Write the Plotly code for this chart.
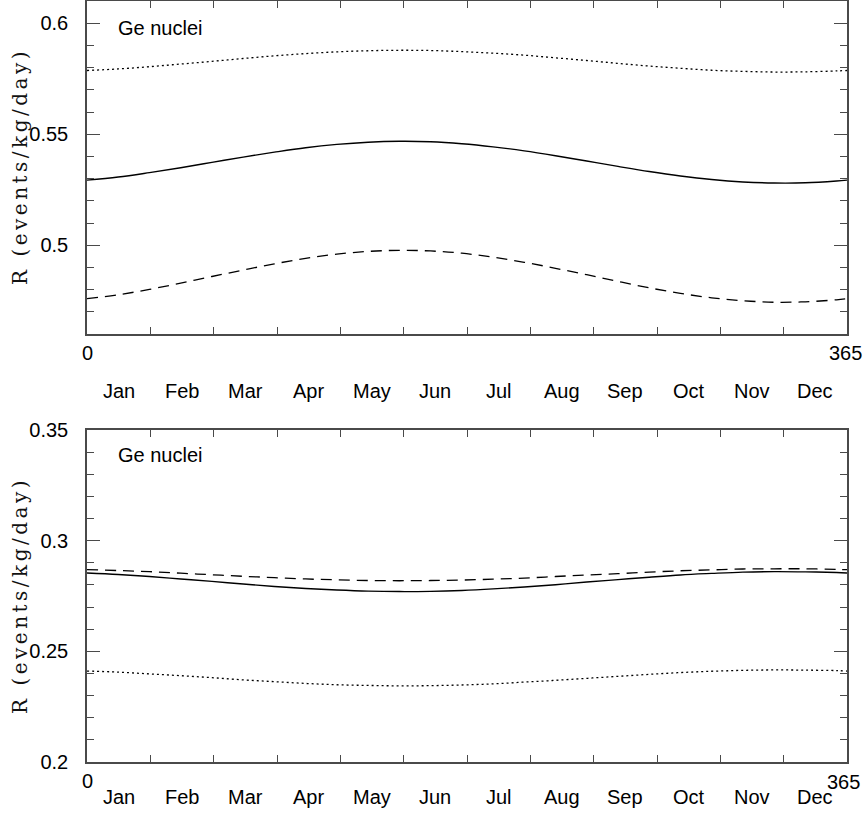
import plotly.graph_objects as go

days = [0, 15, 30, 45, 60, 75, 90, 105, 120, 135, 150, 165, 180, 195, 210,
        225, 240, 255, 270, 285, 300, 315, 330, 345, 360, 365]

# top panel
top_solid = [0.5293, 0.5307, 0.5327, 0.5349, 0.5373, 0.5397, 0.5419, 0.5439, 0.5454,
             0.5464, 0.5468, 0.5466, 0.5457, 0.5443, 0.5425, 0.5403, 0.5379, 0.5355,
             0.5332, 0.5312, 0.5296, 0.5285, 0.5280, 0.5281, 0.5289, 0.5293]
top_dotted = [0.5787, 0.5794, 0.5804, 0.5816, 0.5828, 0.5841, 0.5853, 0.5863, 0.5871,
              0.5876, 0.5878, 0.5877, 0.5872, 0.5865, 0.5856, 0.5844, 0.5832, 0.5819,
              0.5807, 0.5797, 0.5788, 0.5783, 0.5780, 0.5781, 0.5785, 0.5787]
top_dashed = [0.4759, 0.4777, 0.4801, 0.4829, 0.4859, 0.4888, 0.4916, 0.4941, 0.4960,
              0.4972, 0.4977, 0.4974, 0.4964, 0.4946, 0.4923, 0.4896, 0.4867, 0.4837,
              0.4808, 0.4783, 0.4763, 0.4750, 0.4743, 0.4745, 0.4754, 0.4759]

# bottom panel
bot_dashed = [0.2869, 0.2865, 0.2860, 0.2853, 0.2846, 0.2839, 0.2833, 0.2827, 0.2823,
              0.2820, 0.2819, 0.2820, 0.2822, 0.2826, 0.2831, 0.2838, 0.2845, 0.2851,
              0.2858, 0.2864, 0.2868, 0.2872, 0.2873, 0.2873, 0.2870, 0.2869]
bot_solid = [0.2854, 0.2847, 0.2838, 0.2827, 0.2816, 0.2804, 0.2793, 0.2784, 0.2777,
             0.2772, 0.2770, 0.2771, 0.2775, 0.2782, 0.2791, 0.2801, 0.2813, 0.2824,
             0.2835, 0.2845, 0.2852, 0.2858, 0.2860, 0.2859, 0.2856, 0.2854]
bot_dotted = [0.2411, 0.2406, 0.2398, 0.2390, 0.2381, 0.2371, 0.2363, 0.2355, 0.2349,
              0.2346, 0.2344, 0.2345, 0.2348, 0.2353, 0.2361, 0.2369, 0.2378, 0.2387,
              0.2396, 0.2404, 0.2410, 0.2414, 0.2416, 0.2415, 0.2413, 0.2411]

months = ["Jan", "Feb", "Mar", "Apr", "May", "Jun",
          "Jul", "Aug", "Sep", "Oct", "Nov", "Dec"]
month_len = 365 / 12
month_edges = [k * month_len for k in range(1, 12)]
month_mids = [(k + 0.5) * month_len for k in range(12)]

top_yticks = [0.5, 0.55, 0.6]
top_yticklabels = ["0.5", "0.55", "0.6"]
bot_yticks = [0.2, 0.25, 0.3, 0.35]
bot_yticklabels = ["0.2", "0.25", "0.3", "0.35"]
y_title = "R (events/kg/day)"
panel_label = "Ge nuclei"

LINE = "black"
AX = "#4a4a4a"
SANS = "Liberation Sans, Arial, Helvetica, sans-serif"
SERIF = "DejaVu Serif, Liberation Serif, serif"

fig = go.Figure()


def add(y, dash, xa, ya, width=1.4):
    fig.add_trace(go.Scatter(x=days, y=y, mode="lines", xaxis=xa, yaxis=ya,
                             line=dict(color=LINE, width=width, dash=dash, shape="spline"),
                             showlegend=False, hoverinfo="skip"))


add(top_dotted, "2px,3px", "x", "y", 1.3)
add(top_solid, "solid", "x", "y")
add(top_dashed, "11px,7px", "x", "y", 1.3)
add(bot_dashed, "11px,7px", "x2", "y2", 1.3)
add(bot_solid, "solid", "x2", "y2")
add(bot_dotted, "2px,3px", "x2", "y2", 1.3)

xdom = [87 / 864, 847 / 864]
top_dom = [1 - 334 / 816, 1 - 1 / 816]
bot_dom = [1 - 762 / 816, 1 - 430 / 816]

xcommon = dict(range=[0, 365], domain=xdom, showgrid=False, zeroline=False,
               automargin=False,
               showline=True, linecolor=AX, linewidth=1.5, mirror="ticks",
               ticks="inside", ticklen=7, tickwidth=1.2, tickcolor=AX,
               tickvals=month_edges, showticklabels=False)
ycommon = dict(showgrid=False, zeroline=False, showline=True, linecolor=AX,
               automargin=False,
               linewidth=1.5, mirror="ticks", ticks="inside", ticklen=13,
               tickwidth=1.2, tickcolor=AX, ticklabelstandoff=13,
               tickfont=dict(family=SANS, size=20, color="black"),
               minor=dict(dtick=0.01, ticks="inside", ticklen=7, tickwidth=1.2,
                          tickcolor=AX, showgrid=False))

fig.update_layout(
    width=864, height=816, autosize=False,
    margin=dict(l=0, r=0, t=0, b=0, pad=0),
    paper_bgcolor="white", plot_bgcolor="white",
    xaxis=dict(**xcommon, anchor="y"),
    xaxis2=dict(**xcommon, anchor="y2"),
    yaxis=dict(**ycommon, range=[0.46, 0.61], domain=top_dom, anchor="x",
               tickvals=top_yticks, ticktext=top_yticklabels),
    yaxis2=dict(**ycommon, range=[0.2, 0.35], domain=bot_dom, anchor="x2",
                tickvals=bot_yticks, ticktext=bot_yticklabels),
)

ann = []
lab = dict(family=SANS, size=20, color="black")
for xref, y_months, y_zero, y_end, x_end in [("x", 1 - 391 / 816, 1 - 353 / 816, 1 - 353 / 816, 364.5),
                                              ("x2", 1 - 797 / 816, 1 - 781 / 816, 1 - 782 / 816, 363.5)]:
    for m, xm in zip(months, month_mids):
        ann.append(dict(x=xm, y=y_months, xref=xref, yref="paper", text=m,
                        showarrow=False, font=lab, xanchor="center", yanchor="middle"))
    ann.append(dict(x=0, y=y_zero, xref=xref, yref="paper", text="0",
                    showarrow=False, font=lab, xanchor="center", yanchor="middle"))
    ann.append(dict(x=x_end, y=y_end, xref=xref, yref="paper", text="365",
                    showarrow=False, font=lab, xanchor="center", yanchor="middle"))

for py in (28, 455):
    ann.append(dict(x=116 / 864, y=1 - py / 816, xref="paper", yref="paper", text=panel_label,
                    showarrow=False, font=lab, xanchor="left", yanchor="middle"))

ylab = dict(family=SERIF, size=20, color="#111111")
for py in (167, 596):
    ann.append(dict(x=20 / 864, y=1 - py / 816, xref="paper", yref="paper",
                    text='<span style="letter-spacing:3.5px">' + y_title + "</span>",
                    textangle=-90, showarrow=False, font=ylab,
                    xanchor="center", yanchor="middle"))

fig.update_layout(annotations=ann)
fig.write_html(
    "out.html",
    config={"displayModeBar": False, "responsive": False},
    post_script="document.body.style.margin='0px';document.body.style.padding='0px';"
                "document.documentElement.style.overflow='hidden';",
)
